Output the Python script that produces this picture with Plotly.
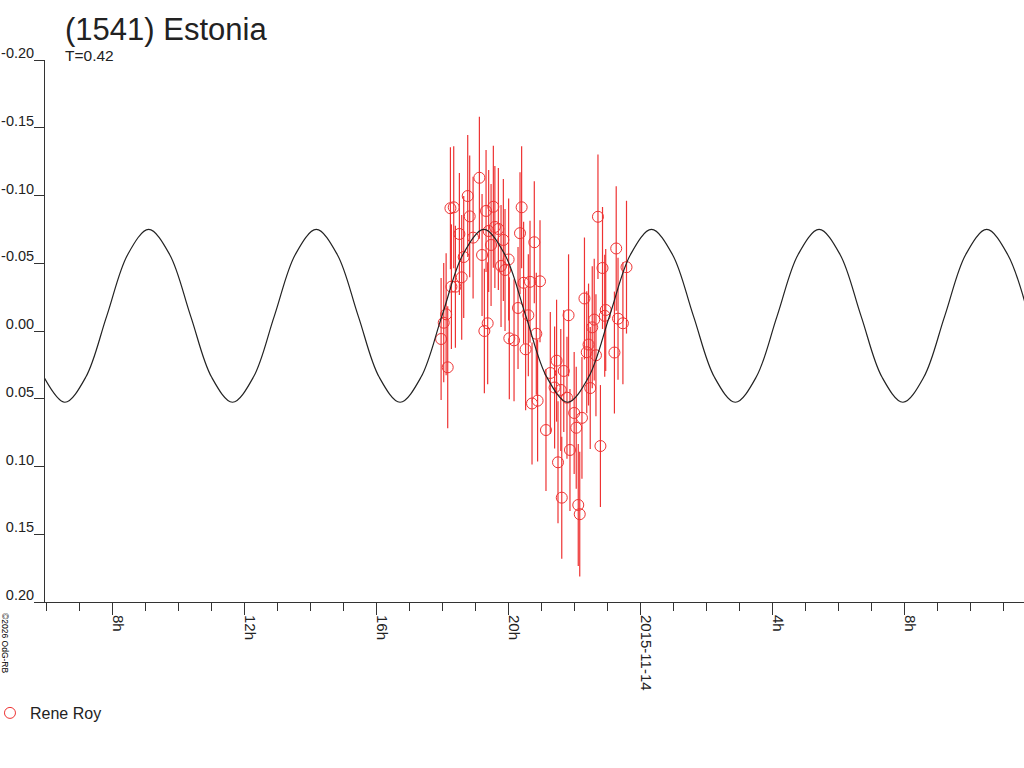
import pandas as pd
import plotly.graph_objects as go

# observation times in hours after 2015-11-13 00:00 (UT) and relative magnitudes
obs_hours = [17.970, 18.049, 18.122, 18.170, 18.252, 18.282, 18.352, 18.403, 18.524, 18.594,
             18.655, 18.776, 18.836, 18.939, 19.130, 19.211, 19.281, 19.332, 19.381, 19.411,
             19.484, 19.553, 19.599, 19.705, 19.786, 19.856, 19.907, 20.016, 20.037, 20.180,
             20.301, 20.361, 20.410, 20.470, 20.531, 20.613, 20.664, 20.725, 20.794, 20.855,
             20.894, 20.967, 21.148, 21.279, 21.409, 21.469, 21.512, 21.596, 21.626, 21.687,
             21.784, 21.832, 21.875, 22.002, 22.065, 22.126, 22.171, 22.238, 22.314, 22.383,
             22.438, 22.489, 22.550, 22.610, 22.662, 22.723, 22.798, 22.861, 22.928, 22.958,
             23.222, 23.276, 23.331, 23.479, 23.588]
obs_mag = [0.0059, -0.0061, -0.0123, 0.0268, -0.0906, -0.0327, -0.0913, -0.0327, -0.0716, -0.0396,
           -0.0546, -0.0996, -0.0846, -0.0689, -0.1131, -0.0561, 0.0000, -0.0886, -0.0057, -0.0738,
           -0.0635, -0.0917, -0.0768, -0.0753, -0.0480, -0.0672, -0.0450, -0.0528, 0.0054, 0.0069,
           -0.0170, -0.0722, -0.0913, -0.0356, 0.0135, -0.0116, -0.0363, 0.0535, -0.0655, 0.0020,
           0.0514, -0.0367, 0.0731, 0.0310, 0.0417, 0.0219, 0.0969, 0.0435, 0.1230, 0.0295,
           0.0492, -0.0116, 0.0878, 0.0605, 0.0714, 0.1284, 0.1352, 0.0641, -0.0240, 0.0157,
           0.0100, 0.0421, -0.0027, -0.0084, 0.0179, -0.0843, 0.0849, -0.0465, -0.0112, -0.0155,
           0.0159, -0.0609, -0.0091, -0.0057, -0.0471]
obs_err = [0.045, 0.044, 0.045, 0.045, 0.045, 0.046, 0.045, 0.045, 0.045, 0.046,
           0.045, 0.045, 0.045, 0.045, 0.045, 0.045, 0.046, 0.045, 0.045, 0.045,
           0.045, 0.045, 0.045, 0.045, 0.045, 0.045, 0.045, 0.045, 0.045, 0.045,
           0.045, 0.045, 0.045, 0.045, 0.045, 0.045, 0.045, 0.045, 0.045, 0.045,
           0.045, 0.045, 0.045, 0.045, 0.045, 0.045, 0.045, 0.045, 0.045, 0.045,
           0.045, 0.045, 0.045, 0.045, 0.045, 0.045, 0.046, 0.045, 0.045, 0.045,
           0.045, 0.045, 0.045, 0.045, 0.045, 0.046, 0.045, 0.045, 0.045, 0.045,
           0.045, 0.046, 0.045, 0.045, 0.049]

fit_hours = [5.934, 6.569, 7.204, 7.839, 8.474, 9.108, 9.743, 10.378, 11.013, 11.648,
             12.283, 12.918, 13.552, 14.187, 14.822, 15.457, 16.092, 16.727, 17.362, 17.996,
             18.631, 19.266, 19.901, 20.536, 21.171, 21.806, 22.440, 23.075, 23.710, 24.345,
             24.980, 25.615, 26.250, 26.885, 27.519, 28.154, 28.789, 29.424, 30.059, 30.694,
             31.329, 31.964, 32.598, 33.233, 33.868, 34.503, 35.138, 35.773]
fit_mag = [0.034, 0.0526, 0.034, -0.0112, -0.0565, -0.075, -0.0565, -0.0112, 0.034, 0.0526,
           0.034, -0.0112, -0.0565, -0.075, -0.0565, -0.0112, 0.034, 0.0526, 0.034, -0.0112,
           -0.0565, -0.075, -0.0565, -0.0112, 0.034, 0.0526, 0.034, -0.0112, -0.0565, -0.075,
           -0.0565, -0.0112, 0.034, 0.0526, 0.034, -0.0112, -0.0565, -0.075, -0.0565, -0.0112,
           0.034, 0.0526, 0.034, -0.0112, -0.0565, -0.075, -0.0565, -0.0112]

base = pd.Timestamp("2015-11-13 00:00")
obs_time = base + pd.to_timedelta(obs_hours, unit="h")
fit_time = base + pd.to_timedelta(fit_hours, unit="h")

x_range = ["2015-11-13 05:58", "2015-11-14 11:38"]
y_tickvals = [-0.20, -0.15, -0.10, -0.05, 0.00, 0.05, 0.10, 0.15, 0.20]
y_ticktext = ["-0.20", "-0.15", "-0.10", "-0.05", "0.00", "0.05", "0.10", "0.15", "0.20"]
x_tickvals = ["2015-11-13 08:00", "2015-11-13 12:00", "2015-11-13 16:00", "2015-11-13 20:00",
              "2015-11-14 00:00", "2015-11-14 04:00", "2015-11-14 08:00"]
x_ticktext = ["8h", "12h", "16h", "20h", "2015-11-14", "4h", "8h"]

red = "#ee3333"
ink = "#222222"
font = "Liberation Sans, Arial, sans-serif"

fig = go.Figure()
fig.add_trace(go.Scatter(
    x=obs_time, y=obs_mag, mode="markers", name="Rene Roy",
    marker=dict(symbol="circle-open", size=11, color=red, line=dict(width=1)),
    error_y=dict(type="data", array=obs_err, color=red, thickness=1.2, width=0),
))
fig.add_trace(go.Scatter(
    x=fit_time, y=fit_mag, mode="lines", showlegend=False, hoverinfo="skip",
    line=dict(color=ink, width=1.2, shape="spline", smoothing=1),
))

fig.update_layout(
    width=1024, height=768,
    margin=dict(l=45, r=0, t=60, b=166, autoexpand=False),
    paper_bgcolor="white", plot_bgcolor="white",
    font=dict(family=font, size=15, color=ink),
    title=dict(text="(1541) Estonia", font=dict(size=31, color=ink),
               x=65 / 1024, xanchor="left", xref="container",
               y=1 - 29 / 768, yanchor="middle", yref="container"),
    showlegend=True,
    legend=dict(x=-0.0562, y=-0.2048, xanchor="left", yanchor="middle",
                font=dict(size=16), bgcolor="rgba(0,0,0,0)", itemwidth=30),
    annotations=[
        dict(text="T=0.42", xref="paper", yref="paper", x=0.0184, y=1.0074,
             xanchor="left", yanchor="middle", showarrow=False, font=dict(size=15.5)),
        dict(text="©2026 OdG-RB", xref="paper", yref="paper", x=-0.0409, y=-0.0756,
             xanchor="center", yanchor="middle",
             textangle=90, showarrow=False, font=dict(size=8.5, color="#000000")),
    ],
)
fig.update_xaxes(
    type="date", range=x_range, showgrid=False, zeroline=False,
    showline=True, linecolor="#333333", linewidth=1,
    tickvals=x_tickvals, ticktext=x_ticktext, tickangle=90,
    ticks="outside", ticklen=12, tickcolor="#333333",
    ticklabelshift=6, ticklabelstandoff=-3,
    minor=dict(dtick=3600000, tick0="2015-11-13 00:00", ticks="outside", ticklen=8,
               tickcolor="#333333", showgrid=False),
)
fig.update_yaxes(
    range=[0.2, -0.2], showgrid=False, zeroline=False,
    showline=True, linecolor="#333333", linewidth=1,
    tickvals=y_tickvals, ticktext=y_ticktext, tickfont=dict(size=14.5),
    ticks="outside", ticklen=10, tickcolor="#333333",
    ticklabelshift=7, ticklabelstandoff=-3,
)

fig.write_html("out.html", config={"displayModeBar": False},
               post_script="document.body.style.margin='0';")
